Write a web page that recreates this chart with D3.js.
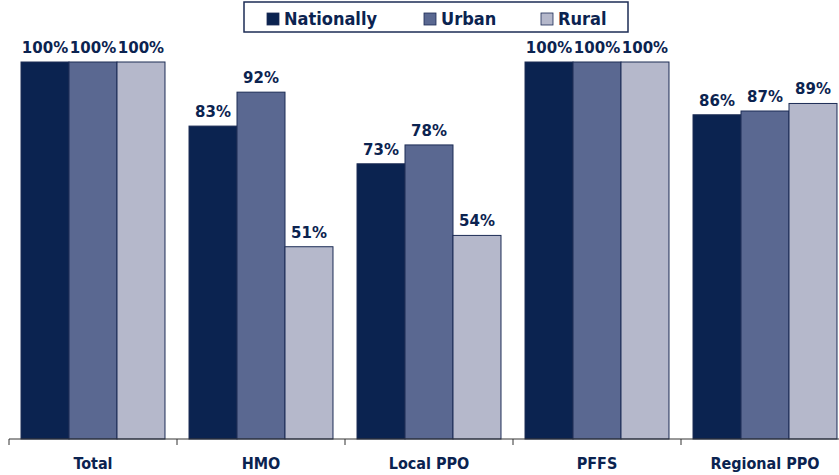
<!DOCTYPE html>
<html lang="en">
<head>
<meta charset="UTF-8">
<title>Plan availability</title>
<style>
  body { margin: 0; background: #fff; }
  svg { display: block; }
</style>
</head>
<body>
<svg id="chart"></svg>
<script src="https://cdn.jsdelivr.net/npm/d3@7"></script>
<script>
// data
var categories = ["Total", "HMO", "Local PPO", "PFFS", "Regional PPO"];
var seriesNames = ["Nationally", "Urban", "Rural"];
var nationally = [100, 83, 73, 100, 86];
var urban = [100, 92, 78, 100, 87];
var rural = [100, 51, 54, 100, 89];
var colors = ["#0b2350", "#5a6891", "#b5b8cb"];

var width = 839, height = 475;
var svg = d3.select("#chart").attr("width", width).attr("height", height);

var baseY = 439, topY = 62;
var bandW = 168, x0 = 9;

var x = d3.scaleBand()
    .domain(categories)
    .range([x0, x0 + bandW * categories.length])
    .paddingInner(0.143)
    .paddingOuter(0.0715);
var xSub = d3.scaleBand().domain(seriesNames).range([0, x.bandwidth()]);
var y = d3.scaleLinear().domain([0, 100]).range([baseY, topY]);

var rows = categories.map(function (c, i) {
    return { cat: c, vals: [nationally[i], urban[i], rural[i]] };
});

var groups = svg.selectAll("g.grp")
    .data(rows)
    .enter().append("g")
    .attr("class", "grp")
    .attr("transform", function (d) { return "translate(" + x(d.cat) + ",0)"; });

groups.selectAll("rect")
    .data(function (d) { return d.vals.map(function (v, j) { return { s: seriesNames[j], v: v, j: j }; }); })
    .enter().append("rect")
    .attr("x", function (d) { return xSub(d.s); })
    .attr("y", function (d) { return y(d.v); })
    .attr("width", xSub.bandwidth())
    .attr("height", function (d) { return baseY - y(d.v); })
    .attr("fill", function (d) { return colors[d.j]; })
    .attr("stroke", "#1c2c55")
    .attr("stroke-width", 1);

groups.selectAll("text.val")
    .data(function (d) { return d.vals.map(function (v, j) { return { s: seriesNames[j], v: v }; }); })
    .enter().append("text")
    .attr("class", "val")
    .attr("x", function (d) { return xSub(d.s) + xSub.bandwidth() / 2; })
    .attr("y", function (d) { return y(d.v) - 9; })
    .attr("text-anchor", "middle")
    .style("font-family", "'DejaVu Sans', Verdana, sans-serif")
    .style("font-weight", "bold")
    .style("font-size", "15px")
    .style("fill", "#0b2350")
    .text(function (d) { return d.v + "%"; });

// x axis: a line with ticks at the band edges, labels centered below
var axis = svg.append("g");
axis.append("line")
    .attr("x1", x0).attr("x2", width)
    .attr("y1", baseY).attr("y2", baseY)
    .attr("stroke", "#333").attr("stroke-width", 1);

var edges = d3.range(categories.length + 1).map(function (i) { return x0 + bandW * i; });
axis.selectAll("line.tick")
    .data(edges)
    .enter().append("line")
    .attr("class", "tick")
    .attr("x1", function (d) { return d; }).attr("x2", function (d) { return d; })
    .attr("y1", baseY).attr("y2", baseY + 6)
    .attr("stroke", "#333");

axis.selectAll("text")
    .data(categories)
    .enter().append("text")
    .attr("x", function (d) { return x(d) + x.bandwidth() / 2; })
    .attr("y", 469)
    .attr("text-anchor", "middle")
    .style("font-family", "'DejaVu Sans Condensed', 'DejaVu Sans', sans-serif")
    .style("font-weight", "bold")
    .style("font-size", "16px")
    .style("fill", "#0b2350")
    .text(function (d) { return d; });

// legend
var legend = svg.append("g");
legend.append("rect")
    .attr("x", 244).attr("y", 2)
    .attr("width", 384).attr("height", 30)
    .attr("fill", "#fff")
    .attr("stroke", "#1c2c55").attr("stroke-width", 1.5);

var legendX = [267, 424, 541];
var items = legend.selectAll("g.item")
    .data(seriesNames)
    .enter().append("g")
    .attr("class", "item")
    .attr("transform", function (d, i) { return "translate(" + legendX[i] + ",0)"; });

items.append("rect")
    .attr("x", 0).attr("y", 13)
    .attr("width", 12).attr("height", 12)
    .attr("fill", function (d, i) { return colors[i]; })
    .attr("stroke", "#1c2c55").attr("stroke-width", 0.8);

items.append("text")
    .attr("x", 17).attr("y", 25)
    .style("font-family", "'DejaVu Sans Condensed', 'DejaVu Sans', sans-serif")
    .style("font-weight", "bold")
    .style("font-size", "18px")
    .style("fill", "#0b2350")
    .text(function (d) { return d; });
</script>
</body>
</html>
